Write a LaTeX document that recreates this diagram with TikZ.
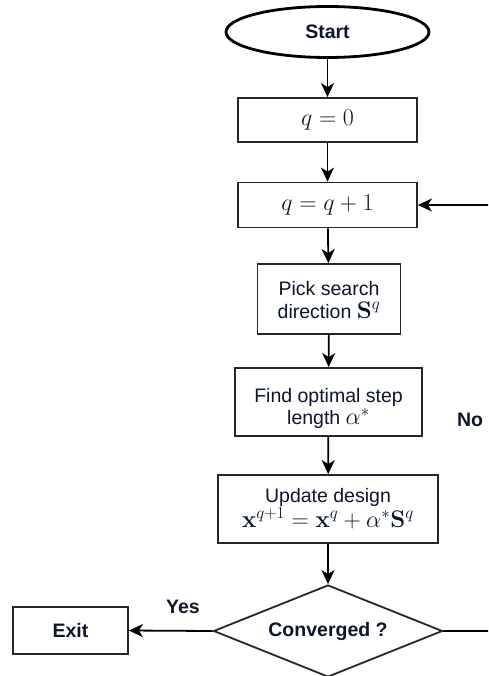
\RequirePackage{fix-cm}
\documentclass[tikz,border=0pt]{standalone}
\usepackage[no-math]{fontspec}
\setmainfont{Liberation Sans}
\usetikzlibrary{shapes.geometric,arrows.meta}
\definecolor{ink}{RGB}{12,22,40}
% formulas are set larger than the surrounding sans text
\DeclareMathSizes{19.5}{24}{17}{13}
\begin{document}
\begin{tikzpicture}[x=1pt,y=-1pt,
  font=\fontsize{19.5}{22.5}\selectfont,
  every node/.style={text=ink, align=center, inner sep=0pt},
  proc/.style={draw=black!85, line width=1.8pt, rectangle},
  term/.style={draw=black, line width=2.8pt, ellipse},
  decis/.style={draw=black!85, line width=1.8pt, diamond},
  lbl/.style={font=\fontsize{19.5}{22.5}\selectfont\bfseries},
  flow/.style={draw=black, line width=1.8pt, -{Stealth[length=14pt,width=13pt,inset=4pt]}}
]
\useasboundingbox (0,0) rectangle (488,676);
\clip (0,0) rectangle (488,676);

% terminal and process boxes, top to bottom
\node[term, minimum width=203pt, minimum height=51pt, lbl] (start) at (327.5,32) {Start};
\node[proc, minimum width=179pt, minimum height=44pt] (q0) at (327.5,120) {$q=0$};
\node[proc, minimum width=179pt, minimum height=45pt] (q1) at (327.5,205) {$q=q+1$};
\node[proc, minimum width=143pt, minimum height=70pt] (pick) at (329,299)
  {\rule{0pt}{16.5pt}Pick search\\direction $\mathbf{S}^q$};
\node[proc, minimum width=187pt, minimum height=68pt] (find) at (328.5,402)
  {\rule{0pt}{27pt}Find optimal step\\length $\alpha^*$};
\node[proc, minimum width=220pt, minimum height=68pt] (upd) at (328,509)
  {Update design\\$\mathbf{x}^{q+1}=\mathbf{x}^q+\alpha^*\mathbf{S}^q$};

% decision (text boxed to zero width so the minimum size sets the diamond) and exit
\node[decis, minimum width=229pt, minimum height=92pt, lbl] (conv) at (328,631)
  {\makebox[0pt]{Converged ?}};
\node[proc, minimum width=115pt, minimum height=47pt, lbl] (exit) at (70.5,630.5) {Exit};

% branch labels
\node[lbl] (yes) at (183,607) {Yes};
\node[lbl] (no) at (470,420) {No};

% connectors
\coordinate (back) at (496,631);
\draw[flow] (start) -- (q0);
\draw[flow] (q0) -- (q1);
\draw[flow] (q1) -- (pick);
\draw[flow] (pick) -- (find);
\draw[flow] (find) -- (upd);
\draw[flow] (upd) -- (conv);
\draw[flow] (conv.west) -- (exit.east);
\draw[flow] (conv.east) -- (back) |- (q1.east);
\end{tikzpicture}
\end{document}
